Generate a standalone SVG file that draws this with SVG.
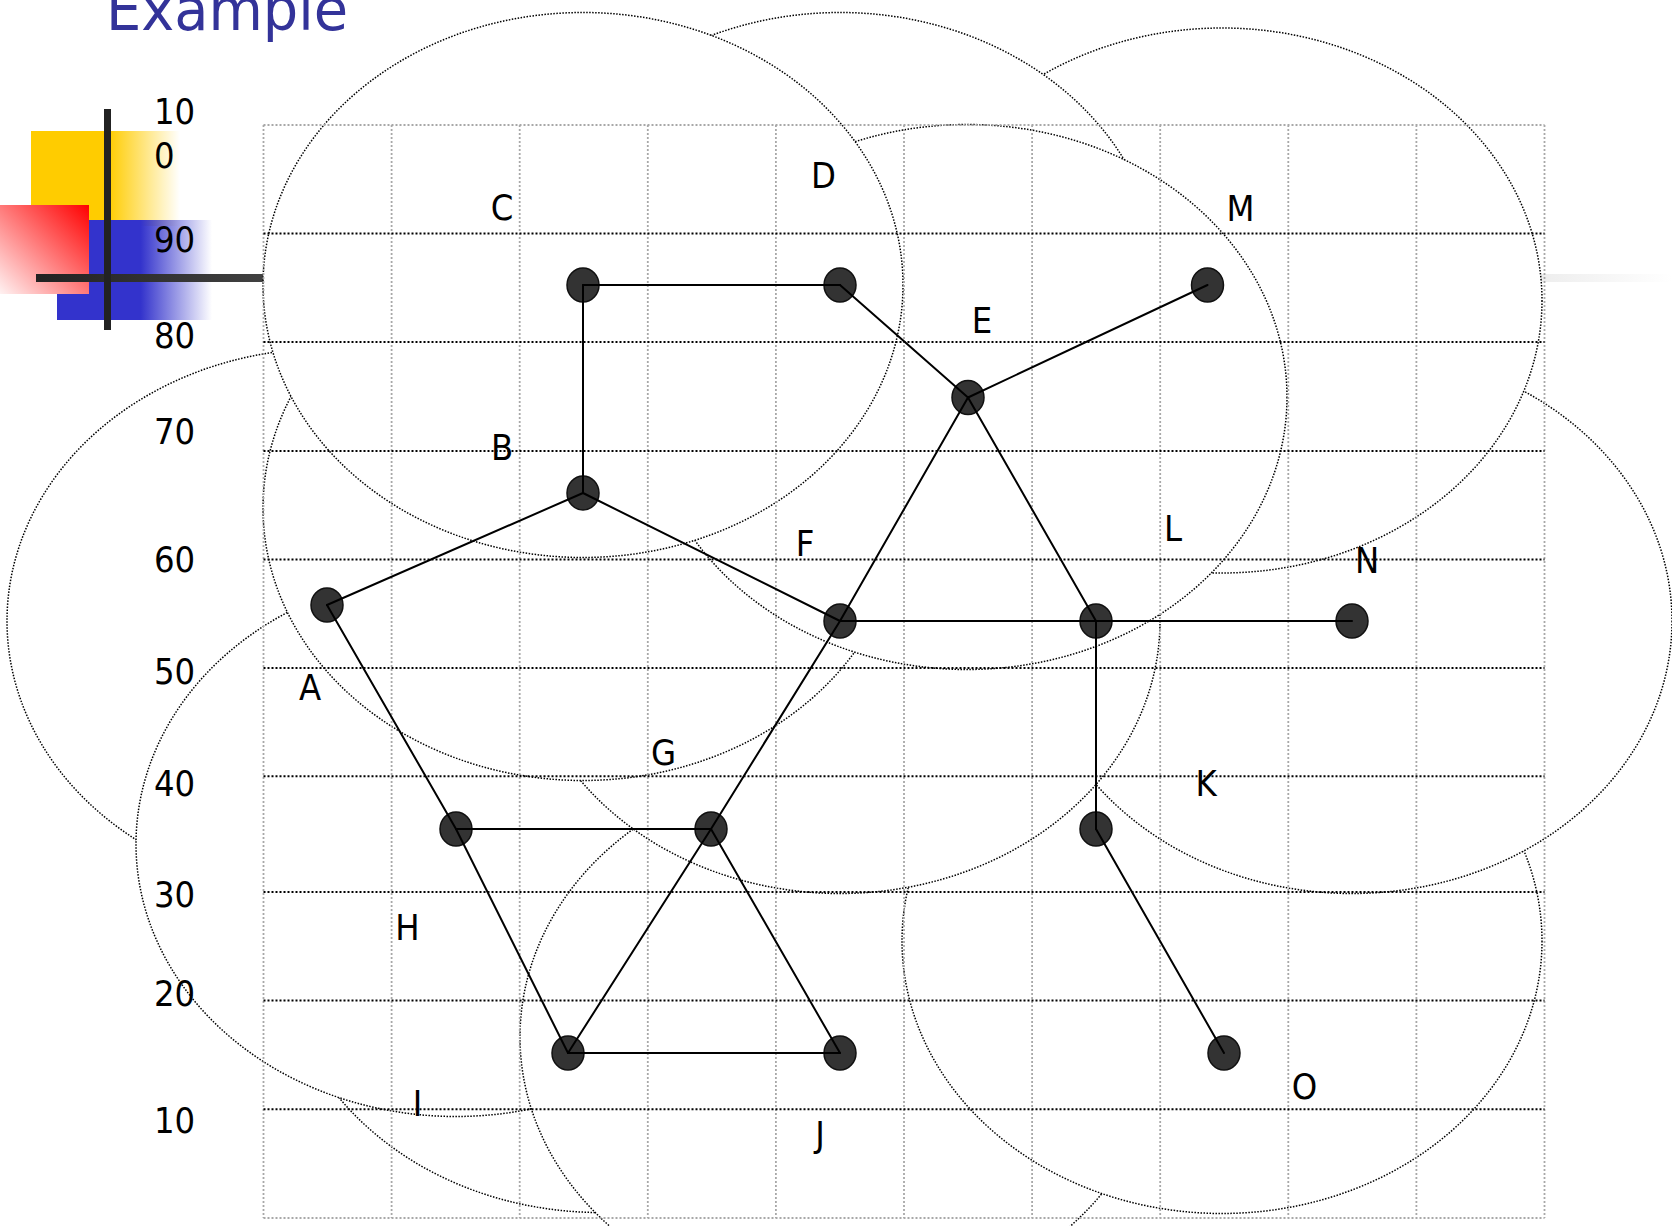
<svg xmlns="http://www.w3.org/2000/svg" width="1672" height="1226" viewBox="0 0 1672 1226">
<style>
.rng{fill:#fff;stroke:#000;stroke-width:1.5;stroke-dasharray:1.5 1.5}
.gv{fill:none;stroke:#a8a8a8;stroke-width:1.8;stroke-dasharray:2 2}
.gb{fill:none;stroke:#000;stroke-width:2;stroke-dasharray:2 2}
.nd{fill:#333;stroke:#111;stroke-width:1.5}
.lb{font-family:'DejaVu Sans Condensed','DejaVu Sans',sans-serif;font-size:36px;fill:#000;text-anchor:middle}
.ax{font-family:'DejaVu Sans Condensed','DejaVu Sans',sans-serif;font-size:36px;fill:#000}
.ed line{stroke:#000;stroke-width:2;stroke-linecap:round}
</style>
<defs>
<linearGradient id="gy" gradientUnits="userSpaceOnUse" x1="31" y1="0" x2="180" y2="0">
<stop offset="0" stop-color="#FFCC00"/><stop offset="0.52" stop-color="#FFCC00"/><stop offset="1" stop-color="#FFCC00" stop-opacity="0"/>
</linearGradient>
<linearGradient id="gbl" gradientUnits="userSpaceOnUse" x1="57" y1="0" x2="212" y2="0">
<stop offset="0" stop-color="#3333CC"/><stop offset="0.54" stop-color="#3333CC"/><stop offset="1" stop-color="#3333CC" stop-opacity="0"/>
</linearGradient>
<linearGradient id="gr" x1="1" y1="0" x2="0" y2="1">
<stop offset="0" stop-color="#FF0000"/><stop offset="1" stop-color="#FFF2F2"/>
</linearGradient>
<linearGradient id="gbar" gradientUnits="userSpaceOnUse" x1="36" y1="0" x2="1672" y2="0">
<stop offset="0" stop-color="#222"/><stop offset="1" stop-color="#fff"/>
</linearGradient>
</defs>
<rect width="1672" height="1226" fill="#fff"/>
<g id="logo">
<rect x="31" y="131" width="149" height="95" fill="url(#gy)"/>
<rect x="57" y="220" width="155" height="100" fill="url(#gbl)"/>
<rect x="0" y="205" width="89" height="89" fill="url(#gr)"/>
<rect x="36" y="274" width="1636" height="8" fill="url(#gbar)"/>
<rect x="104" y="109" width="7" height="221" fill="#222"/>
</g>
<text x="106" y="30" font-family="'DejaVu Sans Condensed','DejaVu Sans',sans-serif" font-size="58" fill="#333399" textLength="242" lengthAdjust="spacingAndGlyphs">Example</text>
<g id="ranges">
<ellipse class="rng" cx="327" cy="621" rx="320" ry="272.5"/>
<ellipse class="rng" cx="600" cy="940" rx="320" ry="272.5"/>
<ellipse class="rng" cx="456" cy="844" rx="320" ry="272.5"/>
<ellipse class="rng" cx="840" cy="1037" rx="320" ry="272.5"/>
<ellipse class="rng" cx="1222" cy="941" rx="320" ry="272.5"/>
<ellipse class="rng" cx="1352" cy="621" rx="320" ry="272.5"/>
<ellipse class="rng" cx="1222" cy="300.5" rx="320" ry="272.5"/>
<ellipse class="rng" cx="840" cy="621" rx="320" ry="272.5"/>
<ellipse class="rng" cx="583" cy="508" rx="320" ry="272.5"/>
<ellipse class="rng" cx="840" cy="285" rx="320" ry="272.5"/>
<ellipse class="rng" cx="967" cy="397" rx="320" ry="272.5"/>
<ellipse class="rng" cx="583" cy="285" rx="320" ry="272.5"/>
</g>
<g id="grid">
<path class="gv" d="M263.5 125V1218M391.6 125V1218M519.7 125V1218M647.8 125V1218M775.9 125V1218M904 125V1218M1032.1 125V1218M1160.2 125V1218M1288.3 125V1218M1416.4 125V1218M1544.5 125V1218M263.5 125H1544.5M263.5 1218H1544.5"/>
<path class="gb" d="M263.5 233.5H1544.5M263.5 342H1544.5M263.5 451H1544.5M263.5 559.5H1544.5M263.5 668H1544.5M263.5 776.3H1544.5M263.5 892H1544.5M263.5 1000.6H1544.5M263.5 1109.3H1544.5"/>
</g>
<g id="axis">
<text class="ax" x="154" y="124">10</text>
<text class="ax" x="154" y="168">0</text>
<text class="ax" x="154" y="252">90</text>
<text class="ax" x="154" y="348">80</text>
<text class="ax" x="154" y="444">70</text>
<text class="ax" x="154" y="572">60</text>
<text class="ax" x="154" y="684">50</text>
<text class="ax" x="154" y="796">40</text>
<text class="ax" x="154" y="907">30</text>
<text class="ax" x="154" y="1006">20</text>
<text class="ax" x="154" y="1133">10</text>
</g>
<g id="node-A"><ellipse class="nd" cx="327" cy="605" rx="16" ry="17"/><text class="lb" x="310" y="700">A</text></g>
<g id="node-B"><ellipse class="nd" cx="583" cy="493" rx="16" ry="17"/><text class="lb" x="502" y="460">B</text></g>
<g id="node-C"><ellipse class="nd" cx="583" cy="285" rx="16" ry="17"/><text class="lb" x="502" y="220">C</text></g>
<g id="node-D"><ellipse class="nd" cx="840" cy="285" rx="16" ry="17"/><text class="lb" x="823.5" y="188">D</text></g>
<g id="node-E"><ellipse class="nd" cx="968" cy="397.5" rx="16" ry="17"/><text class="lb" x="982" y="333">E</text></g>
<g id="node-F"><ellipse class="nd" cx="840" cy="621" rx="16" ry="17"/><text class="lb" x="805" y="556">F</text></g>
<g id="node-G"><ellipse class="nd" cx="711" cy="829" rx="16" ry="17"/><text class="lb" x="663.5" y="765">G</text></g>
<g id="node-H"><ellipse class="nd" cx="456" cy="829" rx="16" ry="17"/><text class="lb" x="407.5" y="940">H</text></g>
<g id="node-I"><ellipse class="nd" cx="568" cy="1053" rx="16" ry="17"/><text class="lb" x="417.5" y="1116">I</text></g>
<g id="node-J"><ellipse class="nd" cx="840" cy="1053" rx="16" ry="17"/><text class="lb" x="820" y="1147">J</text></g>
<g id="node-K"><ellipse class="nd" cx="1096" cy="829" rx="16" ry="17"/><text class="lb" x="1206" y="796">K</text></g>
<g id="node-L"><ellipse class="nd" cx="1096" cy="621" rx="16" ry="17"/><text class="lb" x="1173" y="541">L</text></g>
<g id="node-M"><ellipse class="nd" cx="1207.5" cy="285" rx="16" ry="17"/><text class="lb" x="1240.5" y="221">M</text></g>
<g id="node-N"><ellipse class="nd" cx="1352" cy="621" rx="16" ry="17"/><text class="lb" x="1367" y="573">N</text></g>
<g id="node-O"><ellipse class="nd" cx="1224" cy="1053" rx="16" ry="17"/><text class="lb" x="1304.5" y="1099">O</text></g>
<g id="connectors" class="ed">
<line x1="583" y1="285" x2="840" y2="285"/>
<line x1="583" y1="285" x2="583" y2="493"/>
<line x1="840" y1="285" x2="968" y2="397.5"/>
<line x1="968" y1="397.5" x2="1207.5" y2="285"/>
<line x1="968" y1="397.5" x2="840" y2="621"/>
<line x1="968" y1="397.5" x2="1096" y2="621"/>
<line x1="583" y1="493" x2="327" y2="605"/>
<line x1="583" y1="493" x2="840" y2="621"/>
<line x1="840" y1="621" x2="1096" y2="621"/>
<line x1="1096" y1="621" x2="1352" y2="621"/>
<line x1="1096" y1="621" x2="1096" y2="829"/>
<line x1="1096" y1="829" x2="1224" y2="1053"/>
<line x1="327" y1="605" x2="456" y2="829"/>
<line x1="456" y1="829" x2="711" y2="829"/>
<line x1="456" y1="829" x2="568" y2="1053"/>
<line x1="711" y1="829" x2="840" y2="621"/>
<line x1="711" y1="829" x2="568" y2="1053"/>
<line x1="711" y1="829" x2="840" y2="1053"/>
<line x1="568" y1="1053" x2="840" y2="1053"/>
</g>
</svg>
